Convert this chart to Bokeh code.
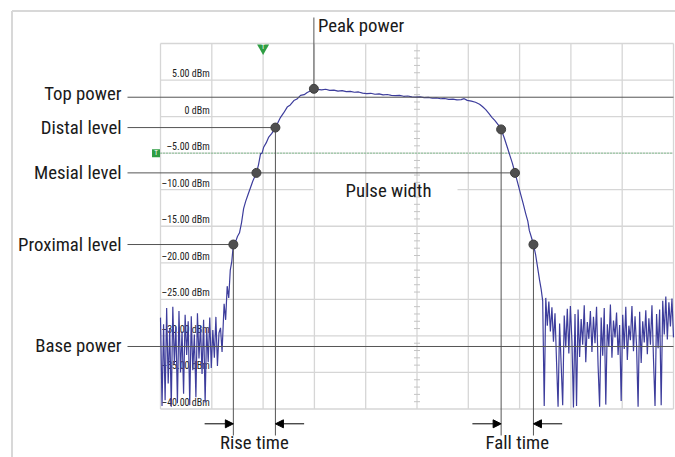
import numpy as np
from bokeh.plotting import figure
from bokeh.models import Range1d, Arrow, NormalHead, ColumnDataSource
from bokeh.core.properties import value
from bokeh.embed import file_html
from bokeh.resources import INLINE

# ------------------------------------------------------------------ data
grid_x = [0, 1, 2, 3, 4, 5, 6, 7, 8, 9, 10]                       # time divisions
grid_y = [10, 5, 0, -5, -10, -15, -20, -25, -30, -35, -40]         # dBm
tick_values = [5, 0, -5, -10, -15, -20, -25, -30, -35, -40]
tick_labels = ["5.00 dBm", "0 dBm", "–5.00 dBm", "–10.00 dBm", "–15.00 dBm",
               "–20.00 dBm", "–25.00 dBm", "–30.00 dBm", "–35.00 dBm", "–40.00 dBm"]

# measured trace (time in divisions, power in dBm)
left_noise_p = [-27.5, -39.6, -28.4, -38.8, -26.2, -36.5, -29.0, -39.7, -26.0, -33.8,
                -28.7, -39.2, -26.6, -35.0, -29.4, -37.9, -27.1, -32.6, -28.0, -39.5,
                -27.3, -34.7, -29.8, -38.4, -26.9, -33.1, -28.6, -35.2, -27.8, -39.1,
                -28.9, -33.6, -27.5, -34.4, -29.2, -33.0, -27.4, -34.1, -29.6, -28.9,
                -32.2]
left_noise_t = [round(0.03 * i, 2) for i in range(len(left_noise_p))]

rise_t = [1.24, 1.27, 1.30, 1.33, 1.36, 1.39, 1.42, 1.46, 1.50, 1.54, 1.58, 1.62,
          1.66, 1.70, 1.75, 1.80, 1.87, 1.91, 1.95, 1.98, 2.01, 2.06, 2.11, 2.17,
          2.24, 2.29, 2.34, 2.40, 2.47, 2.53, 2.60, 2.66, 2.73, 2.80, 2.86, 2.92, 2.99]
rise_p = [-25.6, -27.8, -23.2, -24.8, -21.0, -19.8, -17.5, -17.2, -16.4, -15.9, -14.5, -12.6,
          -11.6, -10.8, -9.8, -8.8, -7.7, -6.6, -5.1, -5.0, -4.2, -3.6, -2.8, -2.3,
          -1.5, -0.8, -0.1, 0.5, 1.3, 1.6, 2.2, 2.4, 2.9, 3.0, 3.3, 3.5, 3.8]

top_t = [3.06, 3.14, 3.22, 3.30, 3.38, 3.46, 3.54, 3.62, 3.70, 3.78, 3.86, 3.94, 4.02,
         4.10, 4.18, 4.26, 4.34, 4.42, 4.50, 4.58, 4.66, 4.74, 4.82, 4.90, 4.98, 5.06,
         5.14, 5.22, 5.30, 5.38, 5.46, 5.54, 5.62, 5.70, 5.78, 5.86, 5.92, 5.98, 6.06,
         6.14, 6.22, 6.28, 6.34, 6.40, 6.46, 6.52, 6.58]
top_p = [3.72, 3.66, 3.74, 3.58, 3.62, 3.49, 3.55, 3.41, 3.46, 3.33, 3.37, 3.22, 3.15,
         3.19, 3.06, 3.10, 2.98, 3.02, 2.91, 2.86, 2.90, 2.78, 2.82, 2.71, 2.66, 2.70,
         2.59, 2.63, 2.52, 2.55, 2.44, 2.48, 2.36, 2.40, 2.30, 2.33, 2.45, 2.22, 2.12,
         1.96, 1.70, 1.35, 0.95, 0.45, -0.10, -0.55, -1.10]

fall_t = [6.64, 6.70, 6.76, 6.81, 6.86, 6.91, 6.96, 7.02, 7.07, 7.12, 7.16, 7.19,
          7.23, 7.27, 7.31, 7.35, 7.39, 7.42, 7.45]
fall_p = [-1.75, -2.9, -4.2, -5.3, -6.4, -7.7, -9.0, -10.6, -11.9, -13.3, -14.3, -15.6,
          -16.5, -17.5, -18.8, -20.6, -22.4, -23.6, -25.2]

right_noise_p = [-39.6, -24.8, -28.6, -25.3, -29.4, -26.1, -30.8, -26.9, -33.5, -39.7,
                 -28.3, -33.9, -39.5, -27.2, -31.6, -26.3, -32.4, -25.9, -30.7, -39.8,
                 -27.0, -39.6, -26.4, -32.9, -27.7, -31.2, -25.8, -33.6, -28.1, -30.4,
                 -26.6, -32.2, -27.4, -31.0, -26.0, -34.1, -39.7, -27.5, -32.7, -26.2,
                 -39.4, -28.4, -31.5, -25.7, -33.0, -27.9, -30.2, -26.8, -32.6, -28.5,
                 -38.9, -27.1, -31.8, -26.0, -33.3, -28.6, -30.6, -25.9, -32.1, -27.3,
                 -31.4, -39.7, -26.7, -33.7, -28.0, -30.9, -26.5, -32.5, -27.6, -31.2,
                 -25.8, -33.2, -39.6, -27.0, -31.7, -26.4, -39.5, -25.2, -29.8, -24.6,
                 -30.5, -25.4, -28.7, -24.9, -30.2]
right_noise_t = [round(7.48 + 0.03 * i, 2) for i in range(len(right_noise_p))]

trace_t = left_noise_t + rise_t + top_t + fall_t + right_noise_t
trace_p = left_noise_p + rise_p + top_p + fall_p + right_noise_p

# pulse measurement levels (dBm)
level_names = ["Top power", "Distal level", "Mesial level", "Proximal level", "Base power"]
level_values = [2.65, -1.5, -7.7, -17.5, -31.45]
level_ends = [10, 2.24, 6.91, 1.42, 10]          # where each level line stops

# measured crossing points
peak_t, peak_p = 2.99, 3.8
dot_t = [2.99, 2.24, 1.87, 1.42, 6.64, 6.91, 7.27]
dot_p = [3.8, -1.5, -7.7, -17.5, -1.75, -7.7, -17.5]
rise_edges = [1.42, 2.24]
fall_edges = [6.64, 7.27]
marker_level = -5.0       # green trigger level
marker_time = 2.0         # green trigger time

# ------------------------------------------------------------------ geometry
W, H = 675, 457
SX = (673 - 160) / 10.0      # px per division
SY = (408.5 - 43) / 50.0     # px per dB
X0 = 0 - 160 / SX
X1 = X0 + W / SX
Y1 = 10 + 43 / SY
Y0 = Y1 - H / SY


def px2x(px):
    return X0 + px / SX


def px2y(py):
    return Y1 - py / SY


FONT = value("Roboto Condensed, DejaVu Sans Condensed, Liberation Sans Narrow, Roboto, sans-serif")
BIG = "18.8px"
GRID = "#d6d6d6"
ANN = "#555555"
TXT = "#1a1a1a"
GREEN = "#2f9e44"

p = figure(width=W, height=H, x_range=Range1d(X0, X1), y_range=Range1d(Y0, Y1),
           x_axis_type=None, y_axis_type=None, toolbar_location=None,
           output_backend="svg", min_border=0, outline_line_color=None)
p.background_fill_color = "white"
p.border_fill_color = "white"

# outer frame (left and top)
p.segment(x0=[px2x(11.5), px2x(11.5)], y0=[px2y(10.5), px2y(10.5)],
          x1=[px2x(11.5), X1], y1=[Y0, px2y(10.5)], line_color="#d8d8d8", line_width=2)

# horizontal grid
gx0, gx1 = grid_x[0], grid_x[-1]
gy0, gy1 = grid_y[-1], grid_y[0]
p.segment(x0=[gx0] * len(grid_y), x1=[gx1] * len(grid_y), y0=grid_y, y1=grid_y,
          line_color=GRID, line_width=1.3)
# white label box behind "Pulse width"
p.quad(left=[px2x(313)], right=[px2x(457)], top=[px2y(180)], bottom=[px2y(199)],
       fill_color="white", line_color=None)
# vertical grid
p.segment(x0=grid_x, x1=grid_x, y0=[gy0] * len(grid_x), y1=[gy1] * len(grid_x),
          line_color=GRID, line_width=1.3)
# centre-line minor ticks
minor = [v for v in np.arange(gy0, gy1 + 0.01, 1.0) if v % 5 != 0]
p.scatter(x=[grid_x[5]] * len(minor), y=minor, marker="dash", size=6,
          line_color="#c4c4c4", line_width=1)

# tick labels
p.text(x=[grid_x[1]] * len(tick_values), y=tick_values, text=tick_labels,
       text_font=FONT, text_font_size="10px", text_color="#222222",
       text_align="right", text_baseline="bottom", x_offset=-2, y_offset=-1)

# green trigger level
p.line(x=[gx0, gx1], y=[marker_level, marker_level], line_color=GREEN,
       line_dash="1 2", line_width=1)

# trace
p.line(x=trace_t, y=trace_p, line_color="#3d3d9c", line_width=1.2)

# level lines and labels
lx = px2x(127)
p.segment(x0=[lx] * len(level_values), x1=level_ends, y0=level_values, y1=level_values,
          line_color=ANN, line_width=1)
p.text(x=[lx] * len(level_values), y=level_values, text=level_names,
       text_font=FONT, text_font_size=BIG, text_color=TXT,
       text_align="right", text_baseline="alphabetic",
       x_offset=-6, y_offset=[-3, 0, 0.5, 0, 0])

# vertical edge lines
edges = rise_edges + fall_edges
edge_levels = [level_values[3], level_values[1], -1.75, level_values[3]]
ybot = px2y(435)
p.segment(x0=edges, x1=edges, y0=edge_levels, y1=[ybot] * len(edges),
          line_color=ANN, line_width=1)
# peak power line
p.segment(x0=[peak_t], x1=[peak_t], y0=[peak_p], y1=[px2y(17)], line_color=ANN, line_width=1)

# dots
p.scatter(x=dot_t, y=dot_p, size=9, fill_color="#4f4f4f", line_color="#3e3e3e")

# text annotations
p.text(x=[peak_t], y=[px2y(25.8)], text=["Peak power"], text_font=FONT,
       text_font_size=BIG, text_color=TXT, text_align="left",
       text_baseline="alphabetic", x_offset=4)
p.text(x=[px2x(388)], y=[px2y(190.2)], text=["Pulse width"], text_font=FONT,
       text_font_size=BIG, text_color=TXT, text_align="center",
       text_baseline="alphabetic")
p.text(x=[(rise_edges[0] + rise_edges[1]) / 2, (fall_edges[0] + fall_edges[1]) / 2],
       y=[px2y(442)] * 2, text=["Rise time", "Fall time"], text_font=FONT,
       text_font_size=BIG, text_color=TXT, text_align="center",
       text_baseline="alphabetic")

# arrows
ya = px2y(423.3)
alen = 0.56
arr = ColumnDataSource(dict(
    xs=[rise_edges[0] - alen, rise_edges[1] + alen, fall_edges[0] - alen, fall_edges[1] + alen],
    xe=[rise_edges[0], rise_edges[1], fall_edges[0], fall_edges[1]],
    y=[ya] * 4))
p.add_layout(Arrow(end=NormalHead(size=8, fill_color="black", line_color="black"),
                   source=arr, x_start="xs", y_start="y", x_end="xe", y_end="y",
                   line_color="black", line_width=1))

# green markers
p.scatter(x=[marker_time], y=[px2y(47.5)], marker="inverted_triangle", size=12,
          fill_color=GREEN, line_color=None)
p.text(x=[marker_time], y=[px2y(47.5)], text=["T"], text_font=FONT, text_font_size="7px",
       text_color="white", text_align="center", text_baseline="middle", y_offset=-1)
sq_x = px2x(155.5)
p.scatter(x=[sq_x], y=[marker_level], marker="square", size=8,
          fill_color=GREEN, line_color=None)
p.text(x=[sq_x], y=[marker_level], text=["T"], text_font=FONT, text_font_size="7px",
       text_color="white", text_align="center", text_baseline="middle")

open("out.html", "w").write(file_html(p, INLINE))
